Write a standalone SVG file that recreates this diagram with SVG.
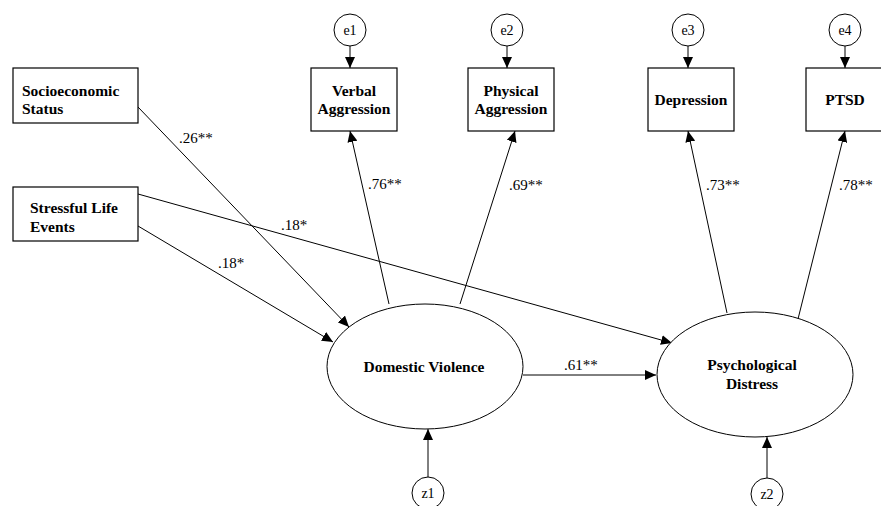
<svg xmlns="http://www.w3.org/2000/svg" width="881" height="506" viewBox="0 0 881 506">
<style>
.box{fill:#fff;stroke:#000;stroke-width:1.2}
.ell{fill:#fff;stroke:#000;stroke-width:1}
.t{font-family:"Liberation Serif","Times New Roman",serif;font-weight:bold;font-size:15.5px;fill:#000}
.l{font-family:"Liberation Serif","Times New Roman",serif;font-size:15px;fill:#000}
.e{font-family:"Liberation Serif","Times New Roman",serif;font-size:14px;fill:#000;text-anchor:middle}
.c{text-anchor:middle}
.ln{stroke:#000;stroke-width:1;fill:none;marker-end:url(#ah)}
</style>
<defs>
<marker id="ah" markerUnits="userSpaceOnUse" markerWidth="12" markerHeight="10" refX="11" refY="5" orient="auto">
<path d="M0,0 L11,5 L0,10 z" fill="#000"/>
</marker>
</defs>
<rect width="881" height="506" fill="#fff"/>
<g id="connectors">
<line class="ln" x1="350" y1="46" x2="350" y2="68"/>
<line class="ln" x1="507" y1="46" x2="507" y2="68"/>
<line class="ln" x1="688" y1="46" x2="688" y2="68"/>
<line class="ln" x1="845" y1="46" x2="845" y2="68"/>
<line class="ln" x1="389" y1="304" x2="350" y2="131"/>
<line class="ln" x1="460" y1="304" x2="515" y2="131"/>
<line class="ln" x1="727" y1="313" x2="688" y2="131"/>
<line class="ln" x1="798" y1="319" x2="845" y2="131"/>
<line class="ln" x1="138" y1="107" x2="349" y2="327"/>
<line class="ln" x1="138" y1="226" x2="333" y2="342"/>
<line class="ln" x1="138" y1="194" x2="672" y2="343"/>
<line class="ln" x1="523" y1="375" x2="656" y2="375"/>
<line class="ln" x1="428" y1="477" x2="428" y2="429"/>
<line class="ln" x1="767" y1="478" x2="767" y2="437"/>
<text class="l" x="179" y="143">.26**</text>
<text class="l" x="281" y="230">.18*</text>
<text class="l" x="218" y="268">.18*</text>
<text class="l" x="368" y="189">.76**</text>
<text class="l" x="509" y="190">.69**</text>
<text class="l" x="706" y="190">.73**</text>
<text class="l" x="839" y="190">.78**</text>
<text class="l" x="564" y="370">.61**</text>
</g>
<g id="e1"><circle cx="350" cy="30" r="16" class="ell"/><text class="e" x="350" y="35">e1</text></g>
<g id="e2"><circle cx="507" cy="30" r="16" class="ell"/><text class="e" x="507" y="35">e2</text></g>
<g id="e3"><circle cx="688" cy="30" r="16" class="ell"/><text class="e" x="688" y="35">e3</text></g>
<g id="e4"><circle cx="845" cy="30" r="16" class="ell"/><text class="e" x="845" y="35">e4</text></g>
<g id="ses"><rect class="box" x="13" y="68" width="125" height="55"/><text class="t" x="22" y="96">Socioeconomic</text><text class="t" x="22" y="114">Status</text></g>
<g id="sle"><rect class="box" x="13" y="187" width="125" height="54"/><text class="t" x="30" y="213">Stressful Life</text><text class="t" x="30" y="232">Events</text></g>
<g id="verbal"><rect class="box" x="311" y="68" width="86" height="63"/><text class="t c" x="354" y="96">Verbal</text><text class="t c" x="354" y="114">Aggression</text></g>
<g id="physical"><rect class="box" x="468" y="68" width="86" height="63"/><text class="t c" x="511" y="96">Physical</text><text class="t c" x="511" y="114">Aggression</text></g>
<g id="depression"><rect class="box" x="648" y="68" width="86" height="63"/><text class="t c" x="691" y="105">Depression</text></g>
<g id="ptsd"><rect class="box" x="806" y="68" width="80" height="63"/><text class="t c" x="845" y="105">PTSD</text></g>
<g id="dv"><ellipse class="ell" cx="425" cy="366.5" rx="98" ry="62.5"/><text class="t c" x="424" y="372">Domestic Violence</text></g>
<g id="pd"><ellipse class="ell" cx="755" cy="374.5" rx="98" ry="62.5"/><text class="t c" x="752" y="370">Psychological</text><text class="t c" x="752" y="389">Distress</text></g>
<g id="z1"><circle cx="428" cy="493" r="16" class="ell"/><text class="e" x="428" y="498">z1</text></g>
<g id="z2"><circle cx="767" cy="494" r="16" class="ell"/><text class="e" x="767" y="499">z2</text></g>
</svg>
